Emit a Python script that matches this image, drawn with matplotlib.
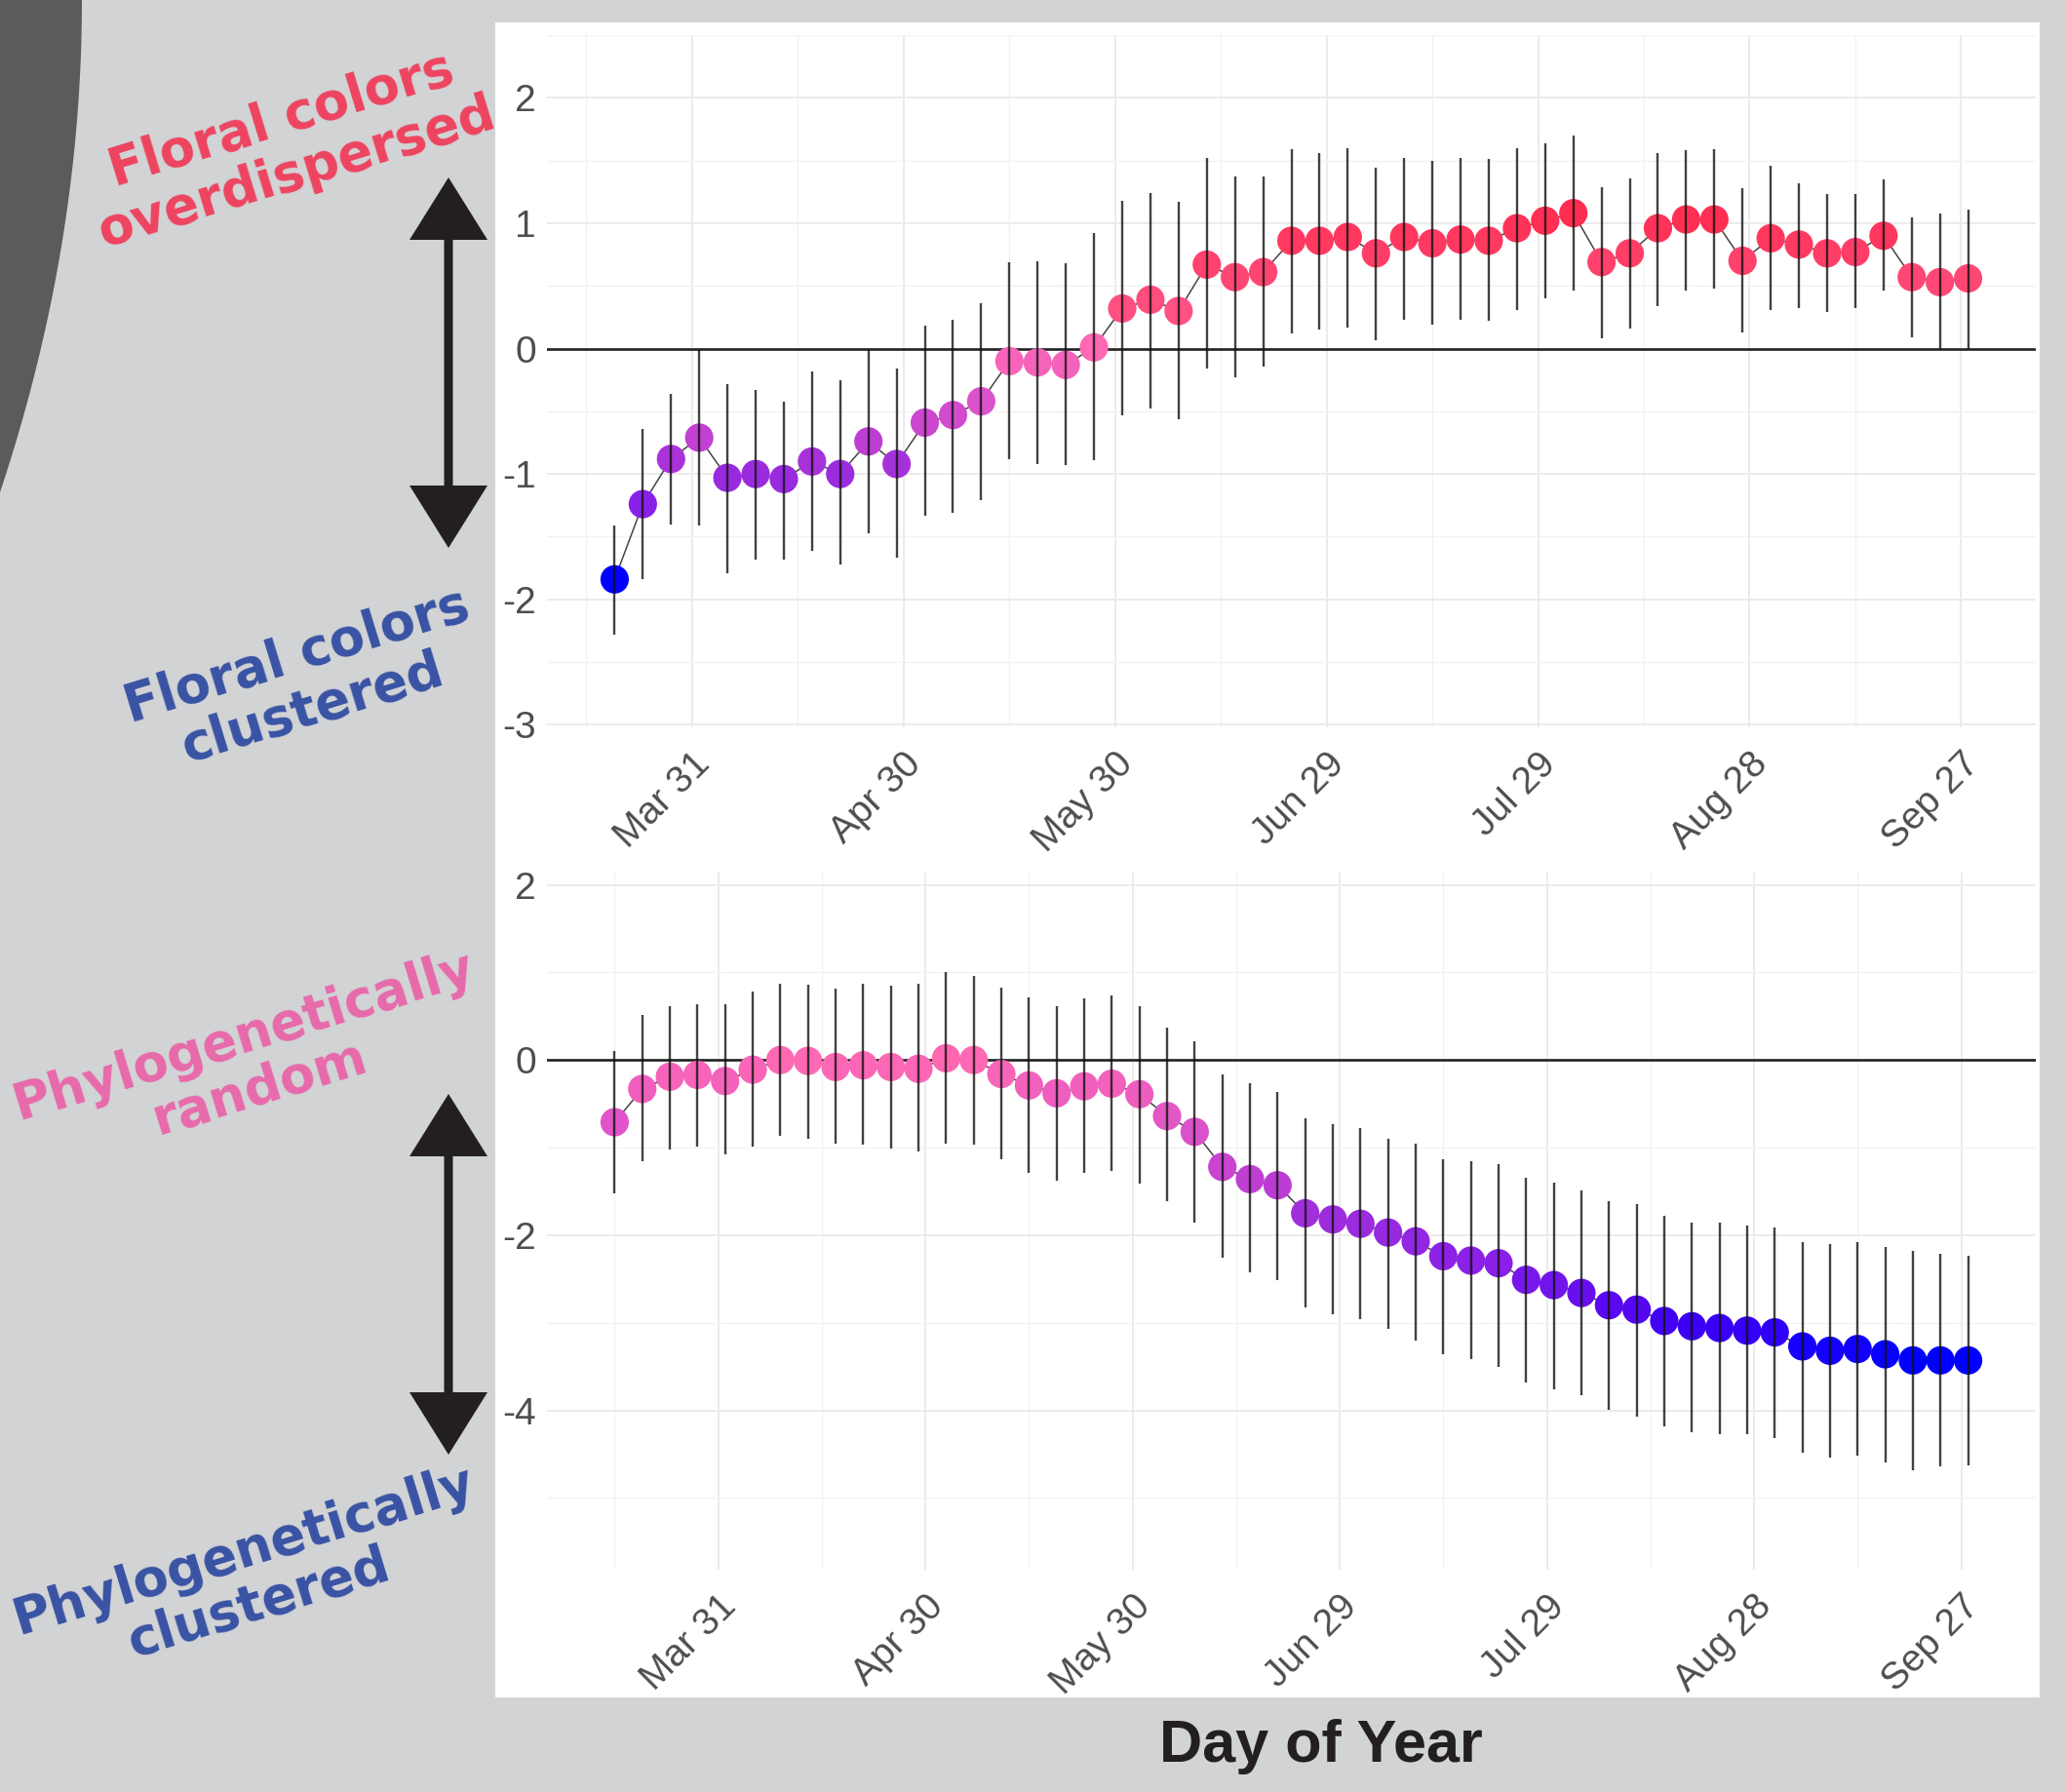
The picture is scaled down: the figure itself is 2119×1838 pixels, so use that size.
import matplotlib.pyplot as plt
from matplotlib.colors import LinearSegmentedColormap, TwoSlopeNorm
from matplotlib.patches import Polygon, Rectangle

# Floral colour dispersion (top panel), day of year
top_days = [79, 83, 87, 91, 95, 99, 103, 107, 111, 115, 119, 123, 127, 131, 135, 139, 143,
            147, 151, 155, 159, 163, 167, 171, 175, 179, 183, 187, 191, 195, 199, 203, 207,
            211, 215, 219, 223, 227, 231, 235, 239, 243, 247, 251, 255, 259, 263, 267, 271]
top_mean = [-1.84, -1.24, -0.88, -0.71, -1.03, -1.00, -1.04, -0.90, -1.00, -0.74, -0.92,
            -0.59, -0.53, -0.42, -0.10, -0.11, -0.13, 0.01, 0.32, 0.39, 0.30, 0.67, 0.57,
            0.61, 0.86, 0.86, 0.89, 0.76, 0.89, 0.84, 0.87, 0.86, 0.96, 1.02, 1.08, 0.69,
            0.76, 0.96, 1.03, 1.03, 0.70, 0.88, 0.83, 0.76, 0.77, 0.90, 0.57, 0.53, 0.56]
top_hi = [-1.41, -0.64, -0.36, 0.00, -0.28, -0.33, -0.42, -0.18, -0.25, 0.00, -0.16,
          0.18, 0.23, 0.36, 0.69, 0.70, 0.68, 0.92, 1.18, 1.24, 1.17, 1.52, 1.37, 1.37,
          1.59, 1.56, 1.60, 1.44, 1.52, 1.50, 1.52, 1.51, 1.60, 1.64, 1.70, 1.29, 1.36,
          1.56, 1.58, 1.59, 1.28, 1.46, 1.32, 1.23, 1.23, 1.35, 1.05, 1.08, 1.11]
top_lo = [-2.28, -1.84, -1.40, -1.41, -1.79, -1.68, -1.68, -1.61, -1.72, -1.47, -1.67,
          -1.33, -1.31, -1.21, -0.88, -0.92, -0.93, -0.89, -0.53, -0.48, -0.56, -0.16,
          -0.23, -0.14, 0.12, 0.15, 0.17, 0.07, 0.23, 0.19, 0.23, 0.22, 0.31, 0.40, 0.46,
          0.08, 0.16, 0.34, 0.46, 0.48, 0.13, 0.31, 0.32, 0.29, 0.32, 0.46, 0.09, 0.00, 0.00]

# Phylogenetic dispersion (bottom panel)
bot_days = [75, 79, 83, 87, 91, 95, 99, 103, 107, 111, 115, 119, 123, 127, 131, 135, 139,
            143, 147, 151, 155, 159, 163, 167, 171, 175, 179, 183, 187, 191, 195, 199, 203,
            207, 211, 215, 219, 223, 227, 231, 235, 239, 243, 247, 251, 255, 259, 263, 267, 271]
bot_mean = [-0.71, -0.33, -0.19, -0.17, -0.24, -0.11, 0.00, -0.01, -0.08, -0.06, -0.08,
            -0.10, 0.02, 0.00, -0.16, -0.29, -0.38, -0.30, -0.27, -0.39, -0.64, -0.82,
            -1.22, -1.36, -1.43, -1.75, -1.82, -1.87, -1.97, -2.07, -2.24, -2.29, -2.32,
            -2.51, -2.57, -2.66, -2.80, -2.85, -2.98, -3.04, -3.06, -3.09, -3.11, -3.27,
            -3.32, -3.30, -3.36, -3.43, -3.43, -3.43]
bot_hi = [0.10, 0.51, 0.62, 0.64, 0.64, 0.78, 0.87, 0.86, 0.82, 0.87, 0.85, 0.87, 1.01,
          0.96, 0.83, 0.71, 0.62, 0.70, 0.74, 0.62, 0.37, 0.21, -0.17, -0.27, -0.36,
          -0.66, -0.73, -0.78, -0.90, -0.96, -1.13, -1.16, -1.19, -1.35, -1.40, -1.49,
          -1.61, -1.64, -1.78, -1.86, -1.86, -1.89, -1.91, -2.08, -2.10, -2.08, -2.13,
          -2.18, -2.21, -2.24]
bot_lo = [-1.52, -1.16, -1.02, -0.99, -1.08, -0.99, -0.87, -0.90, -0.96, -0.97, -1.01,
          -1.04, -0.96, -0.97, -1.13, -1.29, -1.38, -1.29, -1.27, -1.41, -1.61, -1.86,
          -2.26, -2.43, -2.51, -2.82, -2.90, -2.96, -3.07, -3.20, -3.36, -3.42, -3.50,
          -3.68, -3.76, -3.83, -3.99, -4.07, -4.18, -4.25, -4.27, -4.27, -4.32, -4.48,
          -4.54, -4.52, -4.59, -4.68, -4.64, -4.63]

tick_days = [90, 120, 150, 180, 210, 240, 270]
tick_labels = ['Mar 31', 'Apr 30', 'May 30', 'Jun 29', 'Jul 29', 'Aug 28', 'Sep 27']

W, H = 2119, 1838


def fx(px):
    return px / W


def fy(py):
    return 1 - py / H


# blue -> purple -> hot pink -> red
cmap = LinearSegmentedColormap.from_list('disp', [
    (0.00, '#0000FF'), (0.05, '#3800F5'), (0.09, '#5A08F0'), (0.16, '#8A20E8'),
    (0.235, '#9D2DDC'), (0.31, '#C441D2'), (0.40, '#E055C8'), (0.5, '#FF69B4'),
    (0.65, '#FF4F80'), (0.80, '#FF4470'), (1.0, '#FF2D50')])

fig = plt.figure(figsize=(W / 100, H / 100), dpi=100, facecolor='#D1D3D4')

# white card behind the two panels and dark corner shape
fig.add_artist(Rectangle((fx(508), fy(1741)), fx(2092) - fx(508), fy(23) - fy(1741),
                         transform=fig.transFigure, facecolor='white', edgecolor='none', zorder=-2))
curve = [(fx(84 * (1 - (y / 505) ** 2)), fy(y)) for y in range(0, 506, 5)] + [(0, fy(505)), (0, 1)]
fig.add_artist(Polygon(curve, closed=True, transform=fig.transFigure,
                       facecolor='#5B5B5B', edgecolor='none', zorder=-2))


def panel(rect, days, mean, lo, hi, ylim, major, minor):
    ax = fig.add_axes(rect)
    ax.set_facecolor('white')
    ax.set_xlim(days[0] - 0.05 * (days[-1] - days[0]), days[-1] + 0.05 * (days[-1] - days[0]))
    ax.set_ylim(*ylim)
    ax.set_xticks(tick_days)
    ax.set_xticks([75, 105, 135, 165, 195, 225, 255], minor=True)
    ax.set_yticks(major)
    ax.set_yticks(minor, minor=True)
    ax.grid(True, which='major', color='#EBEBEB', lw=1.4)
    ax.grid(True, which='minor', color='#F2F2F2', lw=1.0)
    ax.set_axisbelow(True)
    for s in ax.spines.values():
        s.set_visible(False)
    ax.tick_params(which='both', length=0)
    ax.tick_params(axis='y', labelsize=28, labelcolor='#4D4D4D', pad=8)
    ax.tick_params(axis='x', labelsize=28, labelcolor='#4D4D4D', pad=14)
    ax.set_xticklabels(tick_labels, rotation=45, ha='right', va='top', rotation_mode='anchor',
                       family='Liberation Sans')
    ax.set_yticklabels([str(v) for v in major], family='Liberation Sans')
    ax.axhline(0, color='#222222', lw=1.9, zorder=2)
    ax.plot(days, mean, color='#444444', lw=1.1, zorder=3)
    norm = TwoSlopeNorm(vmin=min(mean), vcenter=0, vmax=max(max(mean), 1.0))
    ax.scatter(days, mean, c=mean, cmap=cmap, norm=norm, s=440, edgecolors='none', zorder=4)
    ax.vlines(days, lo, hi, color='#111111', alpha=0.8, lw=1.7, zorder=5)
    return ax


panel([fx(561), fy(746), fx(2088) - fx(561), fy(36) - fy(746)],
      top_days, top_mean, top_lo, top_hi, (-3.02, 2.46),
      [2, 1, 0, -1, -2, -3], [2.5, 1.5, 0.5, -0.5, -1.5, -2.5])
panel([fx(561), fy(1610), fx(2088) - fx(561), fy(895) - fy(1610)],
      bot_days, bot_mean, bot_lo, bot_hi, (-5.82, 2.14),
      [2, 0, -2, -4], [1, -1, -3, -5])


def double_arrow(x, y0, y1):
    sw, hw, hl = 4.5, 40, 64
    pts = [(x, y0), (x + hw, y0 + hl), (x + sw, y0 + hl), (x + sw, y1 - hl), (x + hw, y1 - hl),
           (x, y1), (x - hw, y1 - hl), (x - sw, y1 - hl), (x - sw, y0 + hl), (x - hw, y0 + hl)]
    fig.add_artist(Polygon([(fx(a), fy(b)) for a, b in pts], closed=True,
                           transform=fig.transFigure, facecolor='#231F20', edgecolor='none'))


double_arrow(460, 182, 562)
double_arrow(460, 1122, 1492)

lab = dict(rotation=17, ha='center', va='center', rotation_mode='anchor',
           fontsize=38, fontweight='bold', family='DejaVu Sans', linespacing=1.1)
fig.text(fx(297), fy(150), 'Floral colors\noverdispersed', color='#EE4460', **lab)
fig.text(fx(313), fy(700), 'Floral colors\nclustered', color='#3953A4', **lab)
fig.text(fx(258), fy(1090), 'Phylogenetically\nrandom', color='#E86AAB', **lab)
fig.text(fx(258), fy(1618), 'Phylogenetically\nclustered', color='#3953A4', **lab)

fig.text(fx(1355), fy(1791), 'Day of Year', ha='center', va='center', fontsize=44,
         fontweight='bold', family='Liberation Sans', color='#231F20')

fig.savefig('out.png', dpi=100, facecolor=fig.get_facecolor())
